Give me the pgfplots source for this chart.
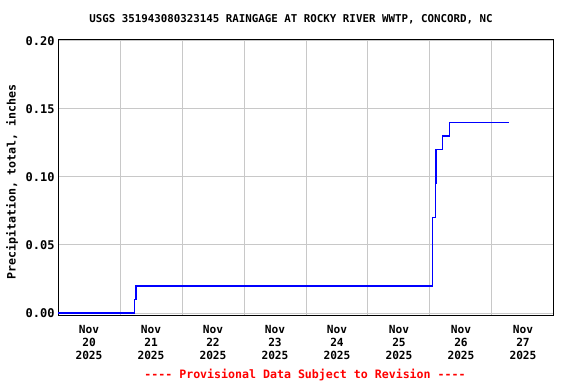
\documentclass[border=0pt]{standalone}
\usepackage{fontspec}
\setmainfont{DejaVu Sans Mono}[Ligatures=TeXOff]
\usepackage{pgfplots}
\pgfplotsset{compat=1.18}
\definecolor{gridgray}{RGB}{200,200,200}
\definecolor{pureblue}{RGB}{0,0,255}
\begin{document}
\begin{tikzpicture}
\useasboundingbox (0,0) rectangle (576bp,384bp);
\begin{axis}[
  at={(58bp,68bp)}, anchor=south west,
  scale only axis, width=496bp, height=276bp,
  xmin=0, xmax=8, ymin=-0.0022, ymax=0.2007,
  font=\fontsize{11.2bp}{12.8bp}\selectfont\bfseries,
  xtick={0.5,1.5,2.5,3.5,4.5,5.5,6.5,7.5},
  xticklabels={{Nov\\20\\2025},{Nov\\21\\2025},{Nov\\22\\2025},{Nov\\23\\2025},{Nov\\24\\2025},{Nov\\25\\2025},{Nov\\26\\2025},{Nov\\27\\2025}},
  xticklabel style={align=center, yshift=-6bp},
  minor xtick={1,2,3,4,5,6,7},
  xminorgrids=true, xmajorgrids=false,
  ytick={0,0.05,0.1,0.15,0.2},
  ymajorgrids=true,
  grid style={gridgray, line width=1bp},
  minor grid style={gridgray, line width=1bp},
  major tick length=0pt, minor tick length=0pt,
  yticklabel style={font=\fontsize{12bp}{13bp}\selectfont\bfseries, /pgf/number format/fixed, /pgf/number format/fixed zerofill, /pgf/number format/precision=2, /pgf/number format/assume math mode=true},
  axis line style={black, line width=1bp},
]
\addplot[sharp plot, draw=pureblue, line width=1.4bp] coordinates {
(0,0) (1.23,0) (1.23,0.01) (1.255,0.01) (1.255,0.02) (6.04,0.02) (6.04,0.07) (6.085,0.07) (6.085,0.095) (6.095,0.095) (6.095,0.12) (6.2,0.12) (6.2,0.13) (6.31,0.13) (6.31,0.14) (7.27,0.14)
};
\end{axis}
\node[font=\fontsize{10.8bp}{12.5bp}\selectfont\bfseries] at (291bp,365bp) {USGS 351943080323145 RAINGAGE AT ROCKY RIVER WWTP, CONCORD, NC};
\node[font=\fontsize{11.6bp}{12.5bp}\selectfont\bfseries, rotate=90] at (12bp,202bp) {Precipitation, total, inches};
\node[font=\fontsize{11.6bp}{12.5bp}\selectfont\bfseries, text=red] at (305bp,9bp) {---- Provisional Data Subject to Revision ----};
\end{tikzpicture}
\end{document}
